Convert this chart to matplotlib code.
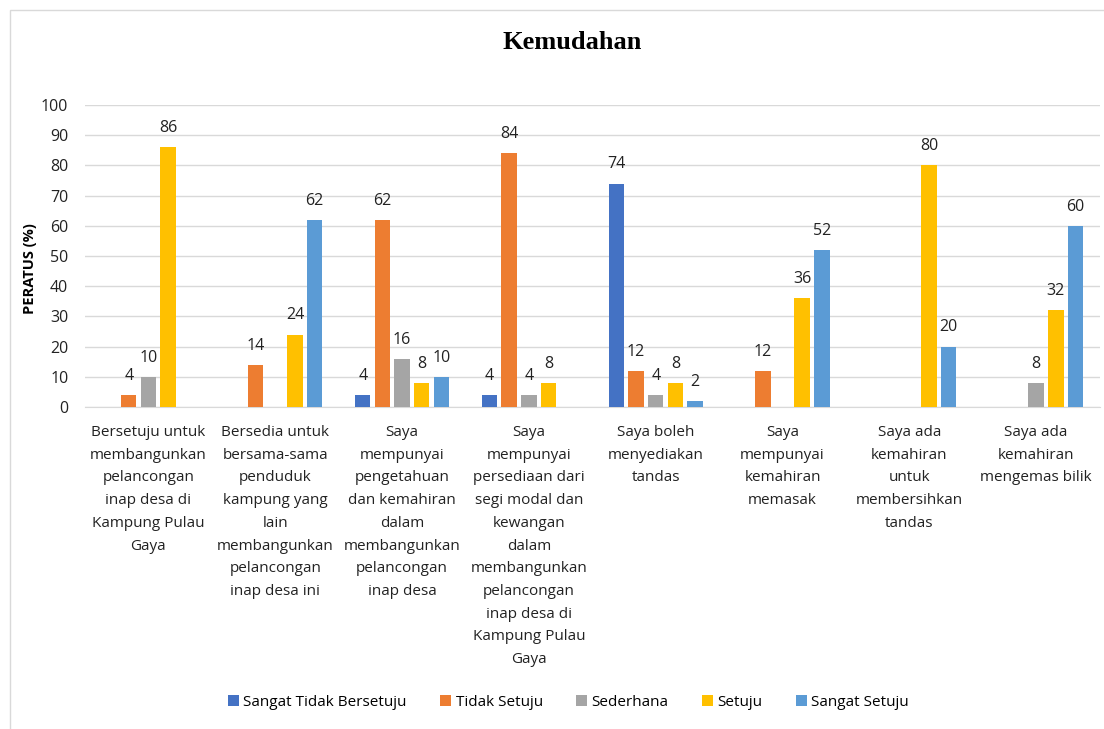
import numpy as np
import matplotlib
matplotlib.use("Agg")
import matplotlib.pyplot as plt
from matplotlib.patches import Rectangle

plt.rcParams['font.family'] = ['Open Sans', 'DejaVu Sans']

categories = [
    "Bersetuju untuk\nmembangunkan\npelancongan\ninap desa di\nKampung Pulau\nGaya",
    "Bersedia untuk\nbersama-sama\npenduduk\nkampung yang\nlain\nmembangunkan\npelancongan\ninap desa ini",
    "Saya\nmempunyai\npengetahuan\ndan kemahiran\ndalam\nmembangunkan\npelancongan\ninap desa",
    "Saya\nmempunyai\npersediaan dari\nsegi modal dan\nkewangan\ndalam\nmembangunkan\npelancongan\ninap desa di\nKampung Pulau\nGaya",
    "Saya boleh\nmenyediakan\ntandas",
    "Saya\nmempunyai\nkemahiran\nmemasak",
    "Saya ada\nkemahiran\nuntuk\nmembersihkan\ntandas",
    "Saya ada\nkemahiran\nmengemas bilik",
]

series_names = ["Sangat Tidak Bersetuju", "Tidak Setuju", "Sederhana", "Setuju", "Sangat Setuju"]
sangat_tidak_bersetuju = [0, 0, 4, 4, 74, 0, 0, 0]
tidak_setuju = [4, 14, 62, 84, 12, 12, 0, 0]
sederhana = [10, 0, 16, 4, 4, 0, 0, 8]
setuju = [86, 24, 8, 8, 8, 36, 80, 32]
sangat_setuju = [0, 62, 10, 0, 2, 52, 20, 60]
colors = ["#4472C4", "#ED7D31", "#A5A5A5", "#FFC000", "#5B9BD5"]

all_series = [sangat_tidak_bersetuju, tidak_setuju, sederhana, setuju, sangat_setuju]

fig = plt.figure(figsize=(11.04, 7.29), dpi=100)
ax = fig.add_axes([0.077, 0.4417, 0.919, 0.4143])

x = np.arange(len(categories))
pitch = 0.155
width = 0.122
for i, (name, vals, c) in enumerate(zip(series_names, all_series, colors)):
    pos = x + (i - 2) * pitch
    ax.bar(pos, vals, width=width, color=c, label=name, zorder=3)
    for p, v in zip(pos, vals):
        if v > 0:
            ax.annotate(str(v), (p, v), xytext=(0, 8), textcoords='offset points',
                        ha='center', va='bottom', fontsize=11.5, color='#222222')

ax.set_xlim(-0.5, len(categories) - 0.5)
ax.set_ylim(0, 100)
ax.set_yticks(np.arange(0, 101, 10))
ax.yaxis.grid(True, color='#D9D9D9', linewidth=1, zorder=0)
ax.set_axisbelow(True)
for s in ['top', 'right', 'left']:
    ax.spines[s].set_visible(False)
ax.spines['bottom'].set_color('#D9D9D9')
ax.tick_params(axis='both', length=0, colors='#222222')
ax.tick_params(axis='y', labelsize=11.5, pad=12)
ax.tick_params(axis='x', labelsize=11, pad=13)
ax.set_xticks(x)
ax.set_xticklabels(categories, linespacing=1.7, va='top')
ax.set_ylabel("PERATUS (%)", fontsize=10.5, fontweight='bold')
ax.yaxis.set_label_coords(-0.047, 0.46)

fig.text(0.518, 0.942, "Kemudahan", ha='center', va='center', fontsize=19,
         fontweight='bold', family='Liberation Serif')

fig.legend(loc='center', bbox_to_anchor=(0.515, 0.037), ncol=5, frameon=False,
           fontsize=11, handlelength=0.7, handleheight=0.7, handletextpad=0.3,
           columnspacing=2.2)

fig.patches.append(Rectangle((10 / 1104, -0.01), 1.1, 1 - 10 / 729 + 0.01,
                             transform=fig.transFigure, fill=False,
                             edgecolor='#D9D9D9', linewidth=1))

fig.savefig("out.png", dpi=100)
